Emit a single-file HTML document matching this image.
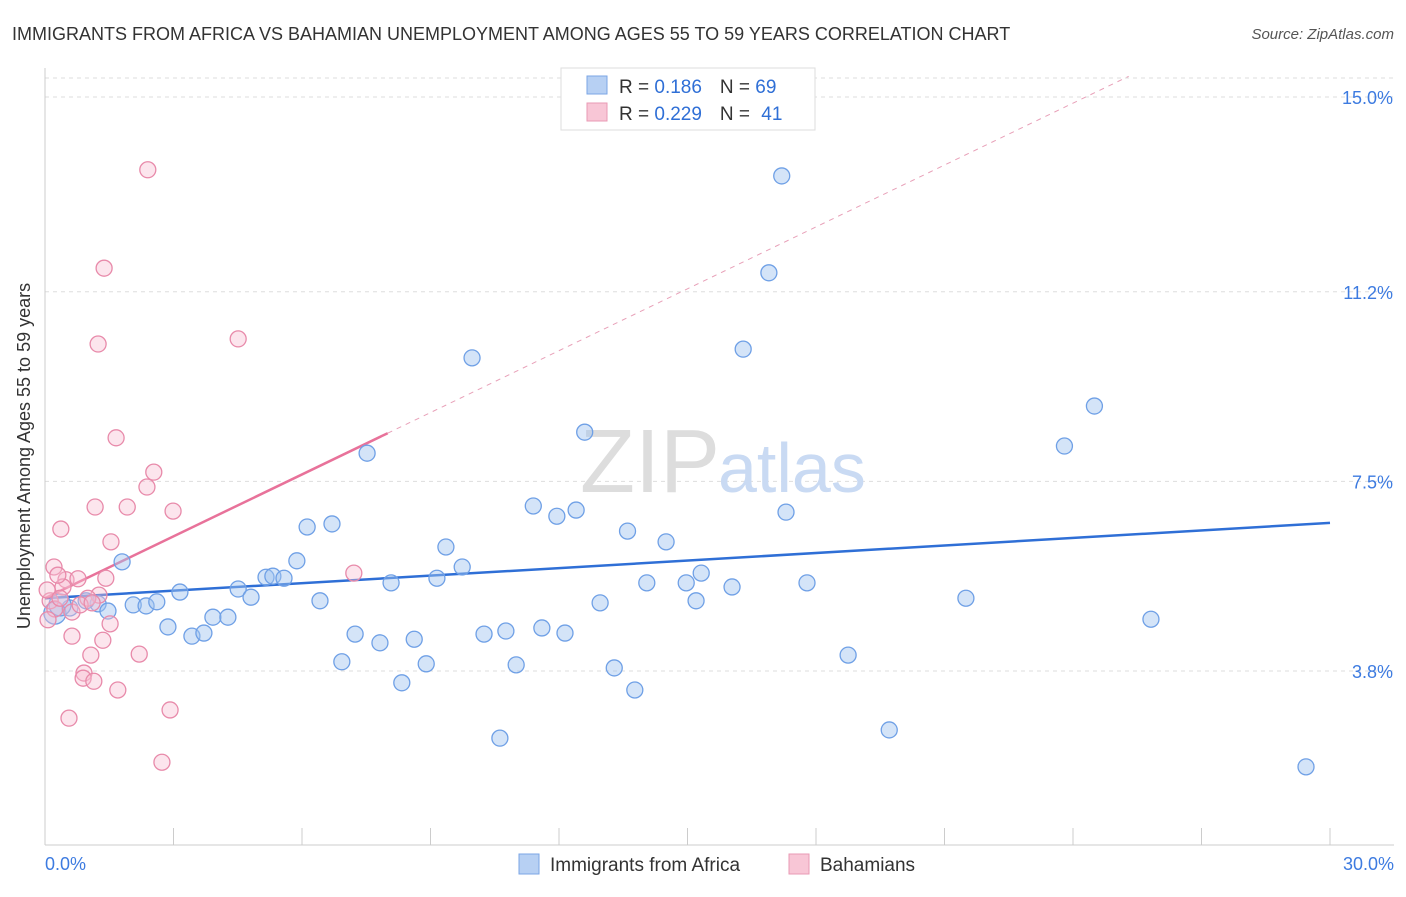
<!DOCTYPE html>
<html><head><meta charset="utf-8"><style>
body{margin:0;background:#fff;font-family:"Liberation Sans",sans-serif}
svg text{font-family:"Liberation Sans",sans-serif}
</style></head><body>
<svg width="1406" height="892" viewBox="0 0 1406 892">
<text x="12" y="40" font-size="18" fill="#333">IMMIGRANTS FROM AFRICA VS BAHAMIAN UNEMPLOYMENT AMONG AGES 55 TO 59 YEARS CORRELATION CHART</text>
<text x="1394" y="39" font-size="15" fill="#555" font-style="italic" text-anchor="end">Source: ZipAtlas.com</text>
<g id="grid"></g>
<text x="720" y="492" font-size="90" fill="#ddd" text-anchor="end" font-family="Liberation Serif">ZIP</text>
<text x="718" y="492" font-size="70" fill="#c9daf3">atlas</text>
<text x="30" y="456" font-size="18" fill="#333" text-anchor="middle" transform="rotate(-90 30 456)">Unemployment Among Ages 55 to 59 years</text>
<g id="marks"></g>
<g>
<rect x="561" y="68" width="254" height="62" fill="#fff" stroke="#ddd"/>
<rect x="587" y="76" width="20" height="18" fill="#b7d0f3" stroke="#7ba6e6"/>
<rect x="587" y="103" width="20" height="18" fill="#f8c6d6" stroke="#e99ab4"/>
<text x="619" y="93" font-size="19" fill="#333">R = <tspan fill="#2f6fd6">0.186</tspan><tspan dx="18">N = </tspan><tspan fill="#2f6fd6">69</tspan></text>
<text x="619" y="120" font-size="19" fill="#333">R = <tspan fill="#2f6fd6">0.229</tspan><tspan dx="18">N = </tspan><tspan fill="#2f6fd6" dx="6">41</tspan></text>
</g>
<g>
<rect x="519" y="854" width="20" height="20" fill="#b7d0f3" stroke="#7ba6e6"/>
<text x="550" y="871" font-size="19" fill="#333">Immigrants from Africa</text>
<rect x="789" y="854" width="20" height="20" fill="#f8c6d6" stroke="#e99ab4"/>
<text x="820" y="871" font-size="19" fill="#333">Bahamians</text>
</g>
</svg>
<script>
const yTicks=[15.0,11.2,7.5,3.8];
const yTickLabels=["15.0%","11.2%","7.5%","3.8%"];
const xTickLabels=["0.0%","30.0%"];
const africaX=[17.2,16.9,16.3,9.97,24.5,23.8,12.6,7.52,11.4,11.95,12.4,17.3,6.12,6.7,13.6,14.5,9.36,1.8,5.88,9.74,9.15,5.16,5.32,5.58,4.51,8.08,14.05,14.97,15.32,16.04,17.79,3.15,4.81,6.42,12.96,15.2,21.5,2.06,2.36,2.61,1.24,1.47,0.58,0.96,0.23,0.35,2.87,3.92,4.27,3.43,3.71,7.24,8.62,10.25,10.76,11.6,12.14,7.82,25.82,18.75,6.93,8.9,11.0,13.29,8.33,13.77,19.71,10.62,29.44];
const africaY=[13.46,11.57,10.08,9.91,8.97,8.19,8.46,8.05,7.02,6.82,6.94,6.90,6.61,6.67,6.53,6.32,6.22,5.93,5.95,5.83,5.61,5.63,5.65,5.61,5.40,5.52,5.52,5.52,5.71,5.44,5.52,5.34,5.24,5.17,5.13,5.17,5.22,5.09,5.07,5.15,5.11,4.97,5.03,5.17,4.93,5.09,4.66,4.85,4.85,4.48,4.54,4.52,4.42,4.52,4.58,4.64,4.54,4.35,4.81,4.11,3.98,3.94,3.92,3.86,3.57,3.43,2.65,2.49,1.93];
const bahX=[2.4,1.38,1.24,4.51,1.66,2.54,2.38,1.17,1.92,2.99,0.37,1.54,0.21,7.21,0.49,0.77,0.42,1.42,1.26,1.0,0.12,0.23,0.63,1.52,0.63,1.35,1.07,2.2,0.91,0.89,1.14,1.7,0.56,2.92,2.73,0.05,0.07,0.35,0.82,1.1,0.3];
const bahY=[13.58,11.66,10.18,10.28,8.35,7.68,7.39,7.0,7.0,6.92,6.57,6.32,5.83,5.71,5.58,5.6,5.44,5.61,5.28,5.22,5.17,5.01,4.95,4.72,4.48,4.4,4.11,4.13,3.76,3.66,3.6,3.43,2.88,3.04,2.02,5.38,4.8,5.22,5.09,5.13,5.67];
const africaTrend=[5.22,6.69];
const bahTrend=[5.22,8.44];
const X0=45,X1=1330;
const xs=v=>X0+(v/30)*(X1-X0);
const ys=v=>97+(15-v)*51.25;
const NS="http://www.w3.org/2000/svg";
function mk(tag,attrs,parent){const e=document.createElementNS(NS,tag);for(const k in attrs)e.setAttribute(k,attrs[k]);parent.appendChild(e);return e;}
const grid=document.getElementById('grid');
mk('line',{x1:45,y1:78,x2:1394,y2:78,stroke:'#ddd','stroke-dasharray':'4 4'},grid);
yTicks.forEach((t,i)=>{
 const l=mk('line',{x1:45,y1:ys(t),x2:1394,y2:ys(t),stroke:'#ddd','stroke-dasharray':'4 4'},grid);
 
 
 const tx=mk('text',{x:1393,y:ys(t)+7,'font-size':18,fill:'#3d7be0','text-anchor':'end'},grid);
 tx.textContent=yTickLabels[i];
 
 
});
mk('line',{x1:45,y1:68,x2:45,y2:845,stroke:'#ccc'},grid);
mk('line',{x1:45,y1:845,x2:1394,y2:845,stroke:'#ccc'},grid);
for(let i=0;i<=10;i++){const x=xs(i*3);mk('line',{x1:x,y1:828,x2:x,y2:845,stroke:'#ccc'},grid);}
[[0,'start',45],[1,'end',1394]].forEach(([i,a,x])=>{
 const t=mk('text',{x:x,y:870,'font-size':18,fill:'#3d7be0','text-anchor':a},grid);
 t.textContent=xTickLabels[i];
 
 
});
const marks=document.getElementById('marks');
const bl=mk('line',{x1:xs(0),y1:ys(africaTrend[0]),x2:xs(30),y2:ys(africaTrend[1]),stroke:'#2f6fd6','stroke-width':2.5},marks);


const slope=(bahTrend[1]-bahTrend[0])/8;
const pd=mk('line',{x1:xs(8),y1:ys(bahTrend[1]),x2:xs(25.3),y2:ys(bahTrend[0]+slope*25.3),stroke:'#e8a0b8','stroke-width':1,'stroke-dasharray':'5 5'},marks);


const pl=mk('line',{x1:xs(0),y1:ys(bahTrend[0]),x2:xs(8),y2:ys(bahTrend[1]),stroke:'#e8729a','stroke-width':2.5},marks);


africaX.forEach((v,i)=>{
 const c=mk('circle',{cx:xs(v),cy:ys(africaY[i]),r:(i==44||i==45)?11:8,fill:'rgba(160,195,240,0.45)',stroke:'#6fa0e6','stroke-width':1.3},marks);
 
 
});
bahX.forEach((v,i)=>{
 const c=mk('circle',{cx:xs(v),cy:ys(bahY[i]),r:8,fill:'rgba(248,190,210,0.4)',stroke:'#e88aaa','stroke-width':1.3},marks);
 
 
});
</script>
</body></html>
